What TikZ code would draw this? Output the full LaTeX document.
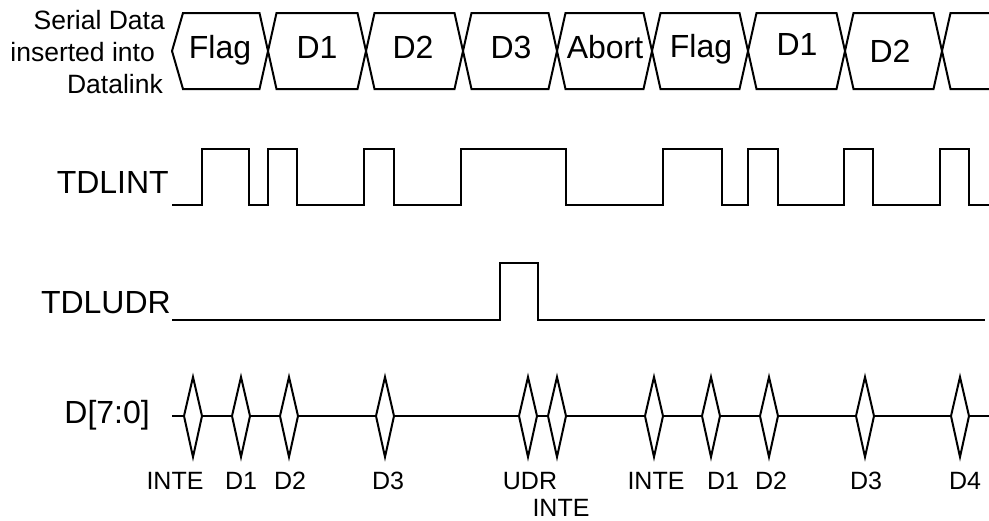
\documentclass[tikz,border=0pt]{standalone}
\usepackage{fontspec}
\setmainfont{Liberation Sans}
\begin{document}
\begin{tikzpicture}[x=1pt,y=-1pt,
  sig/.style={line width=2pt, line join=miter},
  big/.style={font=\fontsize{32}{38}\selectfont, inner sep=0pt},
  serlbl/.style={font=\fontsize{26.5}{31}\selectfont, inner sep=0pt, anchor=base east},
  small/.style={font=\fontsize{25}{30}\selectfont, inner sep=0pt, anchor=base}]
\useasboundingbox (0,0) rectangle (989,520);

% ---- left labels
\node[serlbl] (ser1) at (165,29) {Serial Data};
\node[serlbl] (ser2) at (155,61) {inserted into};
\node[serlbl] (ser3) at (163,93) {Datalink};
\node[big, anchor=base east] (tdlint) at (169,193) {TDLINT};
\node[big, anchor=base east] (tdludr) at (171,313) {TDLUDR};
\node[big, anchor=base east] (dbus) at (150,423) {D[7:0]};

% ---- serial data bus
\draw[sig] (172,51)--(183,13)--(259.5,13)--(276.5,89)--(357.5,89)--(374.5,13)--(454.5,13)--(471.5,89)--(548.5,89)--(565.5,13)--(643.5,13)--(660.5,89)--(739.5,89)--(756.5,13)--(836.5,13)--(853.5,89)--(933.5,89)--(950.5,13)--(990,13);
\draw[sig] (172,51)--(183,89)--(259.5,89)--(276.5,13)--(357.5,13)--(374.5,89)--(454.5,89)--(471.5,13)--(548.5,13)--(565.5,89)--(643.5,89)--(660.5,13)--(739.5,13)--(756.5,89)--(836.5,89)--(853.5,13)--(933.5,13)--(950.5,89)--(990,89);

\node[big, anchor=base] (b1) at (220,58) {Flag};
\node[big, anchor=base] (b2) at (317,58) {D1};
\node[big, anchor=base] (b3) at (413,58) {D2};
\node[big, anchor=base] (b4) at (511,58) {D3};
\node[big, anchor=base] (b5) at (605,58) {Abort};
\node[big, anchor=base] (b6) at (701,57) {Flag};
\node[big, anchor=base] (b7) at (797,55) {D1};
\node[big, anchor=base] (b8) at (890,62) {D2};

% ---- TDLINT
\draw[sig] (172,205)--(202,205)--(202,149)--(249,149)--(249,205)--(268,205)--(268,149)--(297,149)--(297,205)
  --(364,205)--(364,149)--(394,149)--(394,205)--(461,205)--(461,149)--(566,149)--(566,205)
  --(663,205)--(663,149)--(722,149)--(722,205)--(748,205)--(748,149)--(778,149)--(778,205)
  --(844,205)--(844,149)--(873,149)--(873,205)--(940,205)--(940,149)--(969,149)--(969,205)--(990,205);

% ---- TDLUDR
\draw[sig] (172,320)--(500,320)--(500,263)--(538,263)--(538,320)--(985,320);

% ---- D[7:0]
\draw[sig] (172,416)--(990,416);
\foreach \x in {193,241,289,385,528,557,654,711,769,865,960}
  \draw[sig, fill=white] (\x-9,416)--(\x,377)--(\x+9,416)--(\x,457)--cycle;

\node[small] (l1) at (175,489) {INTE};
\node[small] (l2) at (241,489) {D1};
\node[small] (l3) at (290,489) {D2};
\node[small] (l4) at (388,489) {D3};
\node[small] (l5) at (530,489) {UDR};
\node[small] (l6) at (561,516) {INTE};
\node[small] (l7) at (656,489) {INTE};
\node[small] (l8) at (723,489) {D1};
\node[small] (l9) at (771,489) {D2};
\node[small] (l10) at (866,489) {D3};
\node[small] (l11) at (965,489) {D4};
\end{tikzpicture}
\end{document}
